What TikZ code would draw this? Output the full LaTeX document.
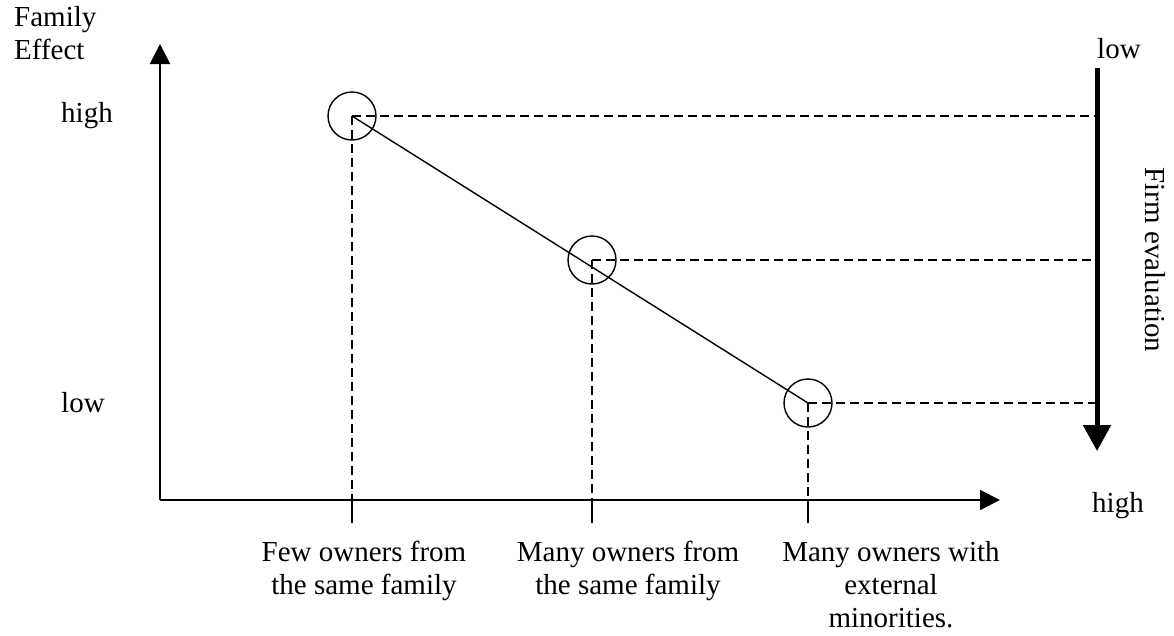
\documentclass[tikz,border=0pt]{standalone}
\usepackage{fontspec}
\setmainfont{Liberation Serif}
\usepackage{tikz}
\usetikzlibrary{arrows.meta,positioning,calc}

\begin{document}
\begin{tikzpicture}[x=1pt, y=-1pt,
    every node/.style={font=\fontsize{29}{33}\selectfont, inner sep=0pt},
    axis/.style={-{Triangle[length=20pt,width=20pt]}, line width=2pt},
    guide/.style={dash pattern=on 9pt off 5pt, line width=1.4pt},
    ring/.style={circle, draw, line width=1.4pt, minimum size=48pt},
    evalarrow/.style={-{Triangle[length=26pt,width=27pt]}, line width=5pt},
    tickline/.style={line width=1.8pt}
]
    \useasboundingbox (0,0) rectangle (1174,635);

    % axes
    \coordinate (origin) at (160,500);
    \draw[axis] (origin) -- (160,44) coordinate (ytop);
    \draw[axis] (origin) -- (1000,500) coordinate (xend);

    % the three owner structures
    \coordinate (few) at (352,116);
    \coordinate (many) at (592,260);
    \coordinate (ext) at (808,403);
    \node[ring] (fewc) at (few) {};
    \node[ring] (manyc) at (many) {};
    \node[ring] (extc) at (ext) {};
    \draw[line width=1.4pt] (few) -- (ext);

    % firm evaluation scale
    \coordinate (ftop) at (1097,68);
    \coordinate (fbot) at (1097,451);
    \draw[evalarrow] (ftop) -- (fbot);

    \foreach \p in {few,many,ext} {
        \draw[guide] (\p) -- (\p -| ftop);
        \draw[guide] (\p) -- (\p |- origin);
        \draw[tickline] (\p |- origin) -- ++(0,23);
    }

    % labels
    \node[anchor=north west, align=left] (yname) at (14,6) {Family\\Effect};
    \node[anchor=west] (yhigh) at (61,116) {high};
    \node[anchor=west] (ylow) at (61,403) {low};
    \node[anchor=base west] (flow) at (1097,58) {low};
    \node[anchor=base west] (fhigh) at (1092,512) {high};
    \node[rotate=-90] (fname) at (1155,260) {Firm evaluation};

    \node[anchor=north, align=center] (fewlab) at (364,541) {Few owners from\\the same family};
    \node[anchor=north, align=center] (manylab) at (628,541) {Many owners from\\the same family};
    \node[anchor=north, align=center] (extlab) at (891,541) {Many owners with\\external\\minorities.};
\end{tikzpicture}
\end{document}
